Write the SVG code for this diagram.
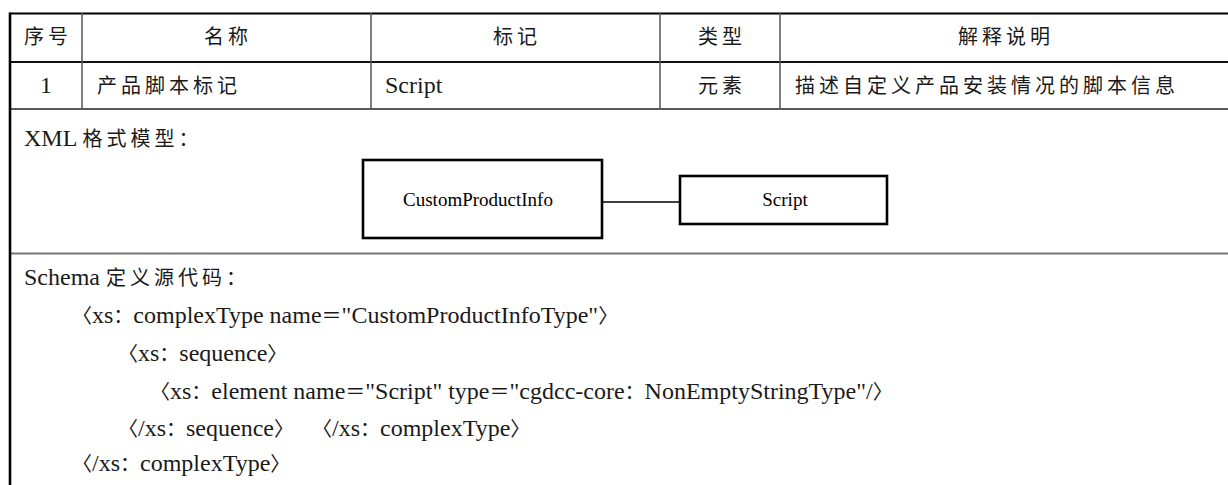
<svg xmlns="http://www.w3.org/2000/svg" width="1228" height="485" viewBox="0 0 1228 485">
<style>
.t { font-family: "Liberation Serif", "Noto Sans CJK SC", serif; font-size: 24px; fill: #1a1a1a; }
.z { font-family: "Noto Sans CJK SC", sans-serif; font-size: 20px; letter-spacing: 4px; }
.p { font-family: "Noto Sans CJK SC", sans-serif; font-size: 20px; }
.m { text-anchor: middle; }
.grid line { stroke: #555; stroke-width: 1.5; }
.node rect { fill: #fff; stroke: #000; stroke-width: 2.6; }
.node text { font-family: "Liberation Serif", serif; font-size: 19px; fill: #000; text-anchor: middle; }
.conn line { stroke: #000; stroke-width: 1.5; }
</style>
<rect width="1228" height="485" fill="#fff"/>
<g id="table" class="grid">
  <line x1="10" y1="13.5" x2="1228" y2="13.5" style="stroke:#000;stroke-width:2.2"/>
  <line x1="10" y1="62" x2="1228" y2="62" style="stroke:#111;stroke-width:2"/>
  <line x1="10" y1="109" x2="1228" y2="109" style="stroke:#222"/>
  <line x1="10" y1="253.5" x2="1228" y2="253.5" style="stroke:#777;stroke-width:2"/>
  <line x1="10" y1="12.5" x2="10" y2="485" style="stroke:#000;stroke-width:2.6"/>
  <line x1="82" y1="13" x2="82" y2="109"/>
  <line x1="371" y1="13" x2="371" y2="109"/>
  <line x1="660" y1="13" x2="660" y2="109"/>
  <line x1="780" y1="13" x2="780" y2="109"/>
</g>
<g id="header" class="t">
  <text x="48" y="44" class="z m">序号</text>
  <text x="228" y="44" class="z m">名称</text>
  <text x="517" y="44" class="z m">标记</text>
  <text x="722" y="44" class="z m">类型</text>
  <text x="1006" y="44" class="z m">解释说明</text>
</g>
<g id="row1" class="t">
  <text x="46" y="93" class="m">1</text>
  <text x="97" y="93" class="z">产品脚本标记</text>
  <text x="385" y="93">Script</text>
  <text x="722" y="93" class="z m">元素</text>
  <text x="795" y="93" class="z">描述自定义产品安装情况的脚本信息</text>
</g>
<text id="xml-label" class="t" x="24" y="146">XML <tspan class="z">格式模型：</tspan></text>
<g id="node-customproductinfo" class="node">
  <rect x="363" y="160" width="239" height="78"/>
  <text x="478" y="206">CustomProductInfo</text>
</g>
<g id="node-script" class="node">
  <rect x="680" y="176" width="207" height="48"/>
  <text x="785" y="206">Script</text>
</g>
<g id="connectors" class="conn">
  <line x1="602" y1="202" x2="680" y2="202"/>
</g>
<g id="code" class="t">
  <text x="24" y="285">Schema <tspan class="z">定义源代码：</tspan></text>
  <text x="72" y="323"><tspan class="p">〈</tspan>xs<tspan class="p">：</tspan>complexType name<tspan class="p">＝</tspan>"CustomProductInfoType"<tspan class="p">〉</tspan></text>
  <text x="118" y="361"><tspan class="p">〈</tspan>xs<tspan class="p">：</tspan>sequence<tspan class="p">〉</tspan></text>
  <text x="150" y="399"><tspan class="p">〈</tspan>xs<tspan class="p">：</tspan>element name<tspan class="p">＝</tspan>"Script" type<tspan class="p">＝</tspan>"cgdcc-core<tspan class="p">：</tspan>NonEmptyStringType"/<tspan class="p">〉</tspan></text>
  <text x="118" y="436"><tspan class="p">〈</tspan>/xs<tspan class="p">：</tspan>sequence<tspan class="p">〉</tspan></text>
  <text x="312" y="436"><tspan class="p">〈</tspan>/xs<tspan class="p">：</tspan>complexType<tspan class="p">〉</tspan></text>
  <text x="72" y="471"><tspan class="p">〈</tspan>/xs<tspan class="p">：</tspan>complexType<tspan class="p">〉</tspan></text>
</g>
</svg>
